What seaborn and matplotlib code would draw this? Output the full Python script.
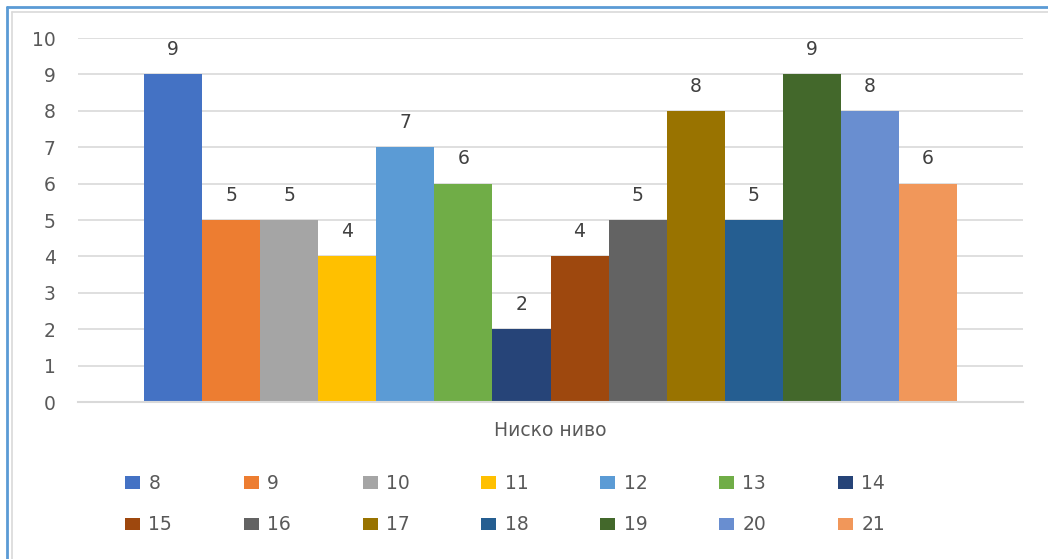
import matplotlib
matplotlib.use("Agg")
import matplotlib.pyplot as plt
from matplotlib.lines import Line2D
import pandas as pd
import seaborn as sns

# Chart data
level = "Ниско ниво"
ages = ["8", "9", "10", "11", "12", "13", "14", "15", "16", "17", "18", "19", "20", "21"]
counts = [9, 5, 5, 4, 7, 6, 2, 4, 5, 8, 5, 9, 8, 6]
colors = ["#4472C4", "#ED7D31", "#A5A5A5", "#FFC000", "#5B9BD5", "#70AD47", "#264478",
          "#9E480E", "#636363", "#997300", "#255E91", "#43682B", "#698ED0", "#F1975A"]

df = pd.DataFrame({"Ниво": [level] * len(ages), "Възраст": ages, "Брой": counts})

sns.set_theme(style="white")
plt.rcParams["font.family"] = ["DejaVu Sans"]

text_grey = "#595959"
fs = 13.5

fig = plt.figure(figsize=(10.48, 5.59), dpi=100)
ax = fig.add_axes([78 / 1048, 1 - 402 / 559, (1023 - 78) / 1048, (402 - 38) / 559])

sns.barplot(data=df, x="Ниво", y="Брой", hue="Възраст", hue_order=ages,
            palette=colors, width=0.86, dodge=True, linewidth=0, legend=False,
            saturation=1, ax=ax)

ax.set_ylim(0, 10)
ax.set_yticks(range(0, 11))
ax.yaxis.grid(True, color="#D9D9D9", linewidth=1.2)
ax.set_axisbelow(True)
for side in ["top", "right", "left"]:
    ax.spines[side].set_visible(False)
ax.spines["bottom"].set_color("#D9D9D9")
ax.spines["bottom"].set_linewidth(1.5)
ax.tick_params(axis="y", length=0, pad=16, labelsize=fs, labelcolor=text_grey)
ax.tick_params(axis="x", length=0, pad=14, labelsize=fs, labelcolor=text_grey)
ax.set_xlabel("")
ax.set_ylabel("")

for cont in ax.containers:
    ax.bar_label(cont, padding=11, fontsize=fs, color="#404040")

# Legend: two rows of seven, filled row by row
handles = [cont.patches[0] for cont in ax.containers]
ncol = 7
order = []
for c in range(ncol):
    for r in range(2):
        order.append(r * ncol + c)
fig.legend([handles[i] for i in order], [ages[i] for i in order],
           ncol=ncol, loc="upper left", bbox_to_anchor=(125 / 1048, 1 - 474 / 559),
           frameon=False, fontsize=fs, labelcolor=text_grey,
           handlelength=0.8, handleheight=0.65, handletextpad=0.45,
           columnspacing=3.82, labelspacing=1.2, borderpad=0, borderaxespad=0)

# Frame lines around the chart area
fig.add_artist(Line2D([7 / 1048, 7 / 1048], [0, 1 - 7 / 559], transform=fig.transFigure,
                      color="#5B9BD5", linewidth=2))
fig.add_artist(Line2D([7 / 1048, 1], [1 - 7 / 559, 1 - 7 / 559], transform=fig.transFigure,
                      color="#5B9BD5", linewidth=2))
fig.add_artist(Line2D([12 / 1048, 12 / 1048], [0, 1 - 12 / 559], transform=fig.transFigure,
                      color="#D9D9D9", linewidth=1.2))
fig.add_artist(Line2D([12 / 1048, 1], [1 - 12 / 559, 1 - 12 / 559], transform=fig.transFigure,
                      color="#D9D9D9", linewidth=1.2))

fig.savefig("out.png", dpi=100)
